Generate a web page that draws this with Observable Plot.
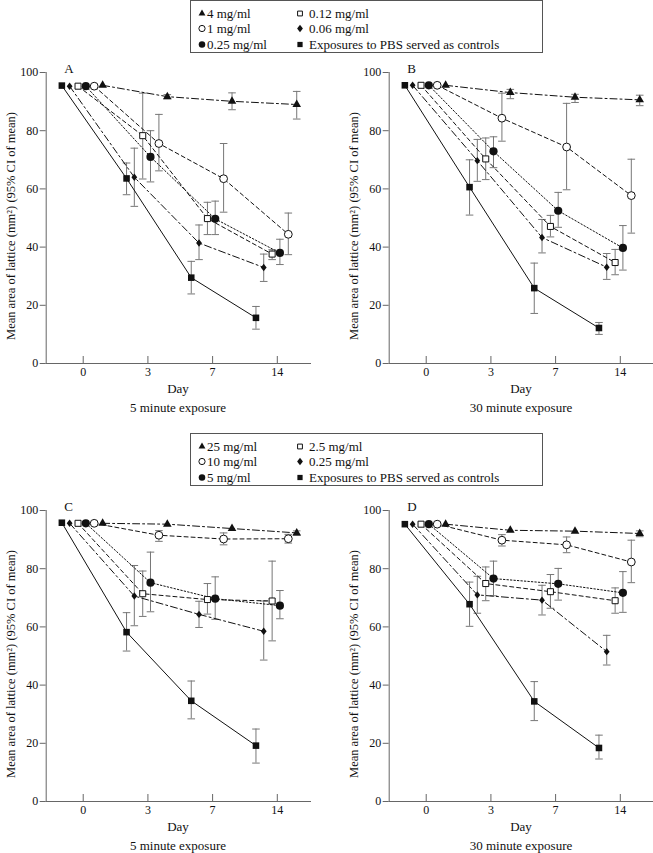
<!DOCTYPE html>
<html><head><meta charset="utf-8">
<script src="https://cdn.jsdelivr.net/npm/d3@7"></script>
<script src="https://cdn.jsdelivr.net/npm/@observablehq/plot@0.6"></script>
<style>
body{margin:0;background:#fff;}
#root{position:relative;width:653px;height:853px;overflow:hidden;font-family:"Liberation Serif","Times New Roman",serif;color:#111;}
.abs{position:absolute;}
.legend{position:absolute;left:190px;width:353px;height:53px;border:1px solid #555;box-sizing:border-box;font-size:13px;}
.item{position:absolute;height:15px;line-height:15px;white-space:nowrap;}
.item svg{position:absolute;left:-9px;top:2px;overflow:visible;}
.cap{position:absolute;width:220px;text-align:center;font-size:13px;line-height:16px;}
</style></head>
<body><div id="root"></div>
<script>
// ---- data ----
const dayLabels = ["0", "3", "7", "14"];
// series order: control (filled square), diamond, open square, filled circle, open circle, triangle
const legendTop = ["Exposures to PBS served as controls", "0.06 mg/ml", "0.12 mg/ml", "0.25 mg/ml", "1 mg/ml", "4 mg/ml"];
const legendBottom = ["Exposures to PBS served as controls", "0.25 mg/ml", "2.5 mg/ml", "5 mg/ml", "10 mg/ml", "25 mg/ml"];
const panelLetters = ["A", "B", "C", "D"];
const exposures = ["5 minute exposure", "30 minute exposure"];
const xTitle = "Day";
const yTitle = "Mean area of lattice (mm²) (95% CI of mean)";
const yTicks = [0, 20, 40, 60, 80, 100];

const meanA = [[95.5, 63.6, 29.5, 15.7], [95.3, 64.0, 41.4, 33.0], [95.3, 78.3, 49.8, 37.6], [95.3, 71.0, 49.7, 38.0], [95.3, 75.6, 63.5, 44.4], [95.6, 91.7, 90.1, 89.0]];
const loA   = [[null, 58.0, 23.9, 11.8], [null, 54.0, 35.7, 28.2], [null, 63.4, 44.3, 35.7], [null, 62.4, 44.3, 34.0], [null, 66.2, 52.0, 37.4], [null, 91.0, 87.2, 84.0]];
const hiA   = [[null, 68.9, 35.1, 19.6], [null, 74.0, 47.6, 37.6], [null, 92.9, 55.4, 39.1], [null, 80.0, 55.8, 42.7], [null, 85.6, 75.6, 51.7], [null, 92.4, 93.0, 93.5]];

const meanB = [[95.6, 60.6, 25.9, 12.2], [95.6, 69.7, 43.3, 33.1], [95.6, 70.3, 47.1, 34.7], [95.6, 72.9, 52.5, 39.7], [95.6, 84.3, 74.4, 57.7], [95.6, 93.1, 91.5, 90.6]];
const loB   = [[null, 51.0, 17.2, 10.0], [null, 62.6, 38.0, 28.9], [null, 63.2, 43.5, 30.5], [null, 67.3, 46.8, 32.1], [null, 76.4, 59.7, 44.8], [null, 91.0, 89.7, 88.6]];
const hiB   = [[null, 70.0, 34.5, 14.1], [null, 77.0, 49.5, 37.8], [null, 77.5, 50.9, 39.2], [null, 77.9, 58.8, 47.4], [null, 92.9, 89.4, 70.2], [null, 94.2, 92.5, 92.2]];

const meanC = [[95.8, 58.2, 34.6, 19.2], [95.6, 70.6, 64.3, 58.5], [95.6, 71.4, 69.4, 68.9], [95.6, 75.2, 69.7, 67.3], [95.6, 91.5, 90.2, 90.3], [95.6, 95.3, 93.8, 92.3]];
const loC   = [[null, 51.7, 28.4, 13.2], [null, 60.4, 59.8, 48.6], [null, 63.6, 64.4, 55.2], [null, 65.2, 62.6, 62.8], [null, 89.4, 88.2, 88.8], [null, null, null, 91.5]];
const hiC   = [[null, 64.9, 41.4, 24.9], [null, 81.1, 68.8, 68.9], [null, 79.2, 74.9, 82.6], [null, 85.7, 77.2, 72.5], [null, 93.1, 92.3, 91.8], [null, null, null, 93.0]];

const meanD = [[95.3, 67.8, 34.4, 18.4], [95.3, 71.0, 69.2, 51.5], [95.3, 74.9, 72.1, 69.0], [95.3, 76.6, 74.8, 71.7], [95.3, 89.8, 88.2, 82.3], [95.3, 93.2, 92.9, 92.1]];
const loD   = [[null, 60.2, 27.8, 14.6], [null, 64.7, 64.1, 46.9], [null, 69.0, 66.4, 64.7], [null, 70.7, 69.2, 65.0], [null, 87.8, 85.5, 75.2], [null, null, null, 91.0]];
const hiD   = [[null, 75.4, 41.2, 22.8], [null, 77.4, 74.3, 57.1], [null, 80.6, 78.0, 73.4], [null, 82.6, 80.1, 79.0], [null, 91.7, 90.9, 89.8], [null, null, null, 93.0]];

// ---- styles ----
const diamondSym = {draw(ctx) { ctx.moveTo(0, -3.7); ctx.lineTo(2.9, 0); ctx.lineTo(0, 3.7); ctx.lineTo(-2.9, 0); ctx.closePath(); }};
const capSym = {draw(ctx) { ctx.moveTo(-3.8, 0); ctx.lineTo(3.8, 0); }};
const styles = [
  {offset: -0.33, symbol: d3.symbolSquare, r: 3.7, fill: "#111", stroke: "none", dash: null},
  {offset: -0.21, symbol: diamondSym, r: 3.2, fill: "#111", stroke: "none", dash: "7,3,2,3"},
  {offset: -0.08, symbol: d3.symbolSquare, r: 3.4, fill: "#fff", stroke: "#111", dash: "4,3"},
  {offset: 0.04, symbol: d3.symbolCircle, r: 4.1, fill: "#111", stroke: "none", dash: "1.5,2"},
  {offset: 0.17, symbol: d3.symbolCircle, r: 3.9, fill: "#fff", stroke: "#111", dash: "4,3"},
  {offset: 0.30, symbol: d3.symbolTriangle, r: 3.2, fill: "#111", stroke: "none", dash: "7,3,2,3"}
];

const root = document.getElementById("root");

function panel(mean, lo, hi, letter, left, top) {
  const pts = [];
  mean.forEach((row, s) => row.forEach((m, d) => pts.push({s, d, x: d + styles[s].offset, y: m, lo: lo[s][d], hi: hi[s][d]})));
  const bars = pts.filter(p => p.lo != null && p.hi != null);
  const marks = [
    Plot.frame({anchor: "left", stroke: "#666"}),
    Plot.frame({anchor: "bottom", stroke: "#666"}),
    Plot.axisY({ticks: yTicks, tickSize: 6, tickPadding: 2, stroke: "#666", fill: "#111", fontSize: 12, label: null}),
    Plot.axisX({ticks: [0, 1, 2, 3], tickFormat: i => dayLabels[i], tickSize: -7, tickPadding: 10.5, stroke: "#666", fill: "#111", fontSize: 12, label: null}),
    Plot.text([yTitle], {frameAnchor: "left", rotate: -90, dx: -35, dy: 8, textAnchor: "middle", lineAnchor: "middle", fontSize: 12.5, fill: "#111"}),
    Plot.text([letter], {frameAnchor: "top-left", dx: 18, lineAnchor: "bottom", textAnchor: "start", fontSize: 13, fill: "#111"}),
    Plot.ruleX(bars, {x: "x", y1: "lo", y2: "hi", stroke: "#777", strokeWidth: 1}),
    Plot.dot(bars, {x: "x", y: "lo", symbol: capSym, fill: "none", stroke: "#777", strokeWidth: 1}),
    Plot.dot(bars, {x: "x", y: "hi", symbol: capSym, fill: "none", stroke: "#777", strokeWidth: 1})
  ];
  styles.forEach((st, s) => {
    marks.push(Plot.line(pts.filter(p => p.s === s), {x: "x", y: "y", stroke: "#111", strokeWidth: 1, strokeDasharray: st.dash || undefined}));
  });
  styles.forEach((st, s) => {
    marks.push(Plot.dot(pts.filter(p => p.s === s), {x: "x", y: "y", symbol: st.symbol, r: st.r, fill: st.fill, stroke: st.stroke, strokeWidth: 1}));
  });
  const svg = Plot.plot({
    width: 310, height: 323,
    marginLeft: 45.7, marginRight: 0, marginTop: 12, marginBottom: 20,
    x: {domain: [-0.572, 3.513]},
    y: {domain: [0, 100]},
    style: {fontFamily: '"Liberation Serif","Times New Roman",serif', background: "transparent", overflow: "visible"},
    marks
  });
  svg.classList.add("abs");
  svg.style.left = left + "px";
  svg.style.top = top + "px";
  root.appendChild(svg);
}

function captions(cx, axisY, expo) {
  const a = document.createElement("div");
  a.className = "cap"; a.textContent = xTitle;
  a.style.left = (cx - 110) + "px"; a.style.top = (axisY + 26.5 - 8) + "px";
  const b = document.createElement("div");
  b.className = "cap"; b.textContent = expo;
  b.style.left = (cx - 110) + "px"; b.style.top = (axisY + 45.5 - 8) + "px";
  root.appendChild(a); root.appendChild(b);
}

function legend(labels, top) {
  const box = document.createElement("div");
  box.className = "legend"; box.style.top = top + "px";
  // column 1: triangle, open circle, filled circle; column 2: open square, diamond, control
  const order = [5, 4, 3, 2, 1, 0];
  order.forEach((s, i) => {
    const col = Math.floor(i / 3), row = i % 3;
    const it = document.createElement("div");
    it.className = "item";
    it.style.left = (col === 0 ? 16 : 118) + "px";
    it.style.top = (4.5 + row * 15.5) + "px";
    it.textContent = labels[s];
    const st = styles[s];
    const sz = Math.PI * Math.pow(st.r * 0.8, 2);
    const svgNS = "http://www.w3.org/2000/svg";
    const sv = document.createElementNS(svgNS, "svg");
    sv.setAttribute("width", 10); sv.setAttribute("height", 10);
    sv.style.left = (col === 0 ? -10 : -14) + "px";
    const p = document.createElementNS(svgNS, "path");
    p.setAttribute("d", d3.symbol(st.symbol, sz)());
    p.setAttribute("transform", "translate(5,5.5)");
    p.setAttribute("fill", st.fill);
    p.setAttribute("stroke", st.stroke);
    sv.appendChild(p);
    it.insertBefore(sv, it.firstChild);
    box.appendChild(it);
  });
  root.appendChild(box);
}

legend(legendTop, 0);
legend(legendBottom, 433);
panel(meanA, loA, hiA, panelLetters[0], 0, 60);
panel(meanB, loB, hiB, panelLetters[1], 342.6, 60);
panel(meanC, loC, hiC, panelLetters[2], 0, 498);
panel(meanD, loD, hiD, panelLetters[3], 342.6, 498);
captions(178, 362.7, exposures[0]);
captions(521, 362.7, exposures[1]);
captions(178, 800.7, exposures[0]);
captions(521, 800.7, exposures[1]);
</script>
</body></html>
